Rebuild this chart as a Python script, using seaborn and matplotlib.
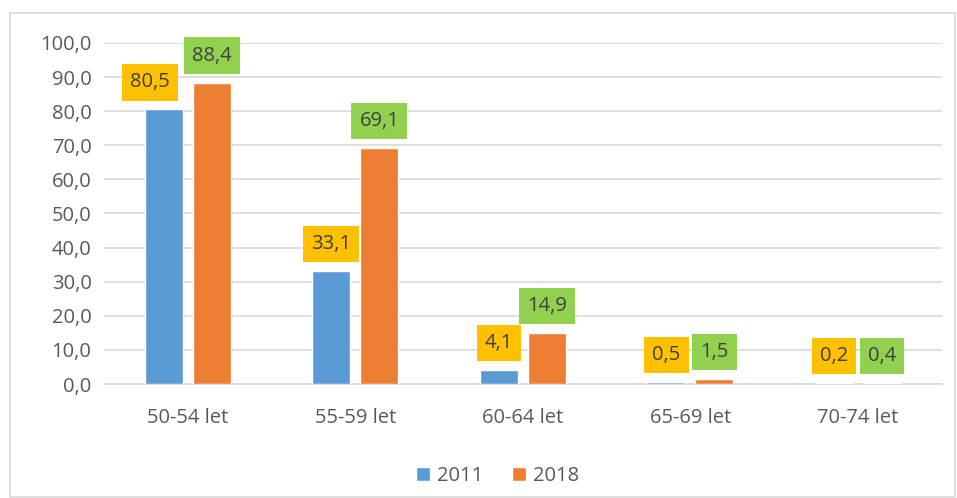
import matplotlib
matplotlib.use("Agg")
import matplotlib.pyplot as plt
import pandas as pd
import seaborn as sns
from matplotlib.patches import Rectangle

categories = ["50-54 let", "55-59 let", "60-64 let", "65-69 let", "70-74 let"]
values_2011 = [80.5, 33.1, 4.1, 0.5, 0.2]
values_2018 = [88.4, 69.1, 14.9, 1.5, 0.4]
years = ["2011", "2018"]
colors = {"2011": "#5B9BD5", "2018": "#ED7D31"}
box_colors = {"2011": "#FFC000", "2018": "#92D050"}

df = pd.DataFrame({
    "group": categories * 2,
    "year": [years[0]] * len(categories) + [years[1]] * len(categories),
    "value": values_2011 + values_2018,
})

sns.set_style("white")
plt.rcParams["font.family"] = ["Open Sans", "DejaVu Sans"]

fig = plt.figure(figsize=(9.57, 4.98), dpi=100)
ax = fig.add_axes([0.1087, 0.2289, 0.8753, 0.6848])

sns.barplot(data=df, x="group", y="value", hue="year", palette=colors,
            saturation=1, width=0.573, gap=0.21, ax=ax, zorder=3)

ax.set_ylim(0, 100)
ax.set_xlim(-0.5, 4.5)
ax.set_yticks(range(0, 101, 10))
ax.set_yticklabels([f"{v:.1f}".replace(".", ",") for v in range(0, 101, 10)])
ax.grid(axis="y", color="#D9D9D9", linewidth=1.2, zorder=0)
ax.set_axisbelow(True)
for s in ["top", "right", "left"]:
    ax.spines[s].set_visible(False)
ax.spines["bottom"].set_color("#D9D9D9")
ax.spines["bottom"].set_linewidth(1.2)
ax.tick_params(axis="y", length=0, pad=9, labelsize=14.5, labelcolor="#595959")
ax.tick_params(axis="x", length=0, pad=17, labelsize=14.5, labelcolor="#595959")
ax.set_xlabel("")
ax.set_ylabel("")

# value labels in coloured boxes
for container, year in zip(ax.containers, years):
    for i, bar in enumerate(container):
        h = bar.get_height()
        xc = bar.get_x() + bar.get_width() / 2
        dx = 0
        if year == "2011" and h > 70:
            dx = -14
        ax.annotate(f"{h:.1f}".replace(".", ","), (xc, h),
                    xytext=(dx, 27), textcoords="offset pixels",
                    ha="center", va="center", fontsize=14.5, color="#404040",
                    bbox=dict(boxstyle="square,pad=0.4", fc=box_colors[year], ec="none"),
                    zorder=5)

leg = ax.legend(loc="center", bbox_to_anchor=(0.47, -0.27), ncol=2, frameon=False,
                fontsize=14.5, handlelength=0.7, handleheight=0.7, handletextpad=0.35,
                columnspacing=1.4)
for t in leg.get_texts():
    t.set_color("#595959")

fig.patches.append(Rectangle((10 / 957, 0.002), 945 / 957, 1 - 13 / 498 - 0.002,
                             transform=fig.transFigure, fill=False,
                             edgecolor="#D9D9D9", linewidth=1.2))

fig.savefig("out.png", dpi=100)
